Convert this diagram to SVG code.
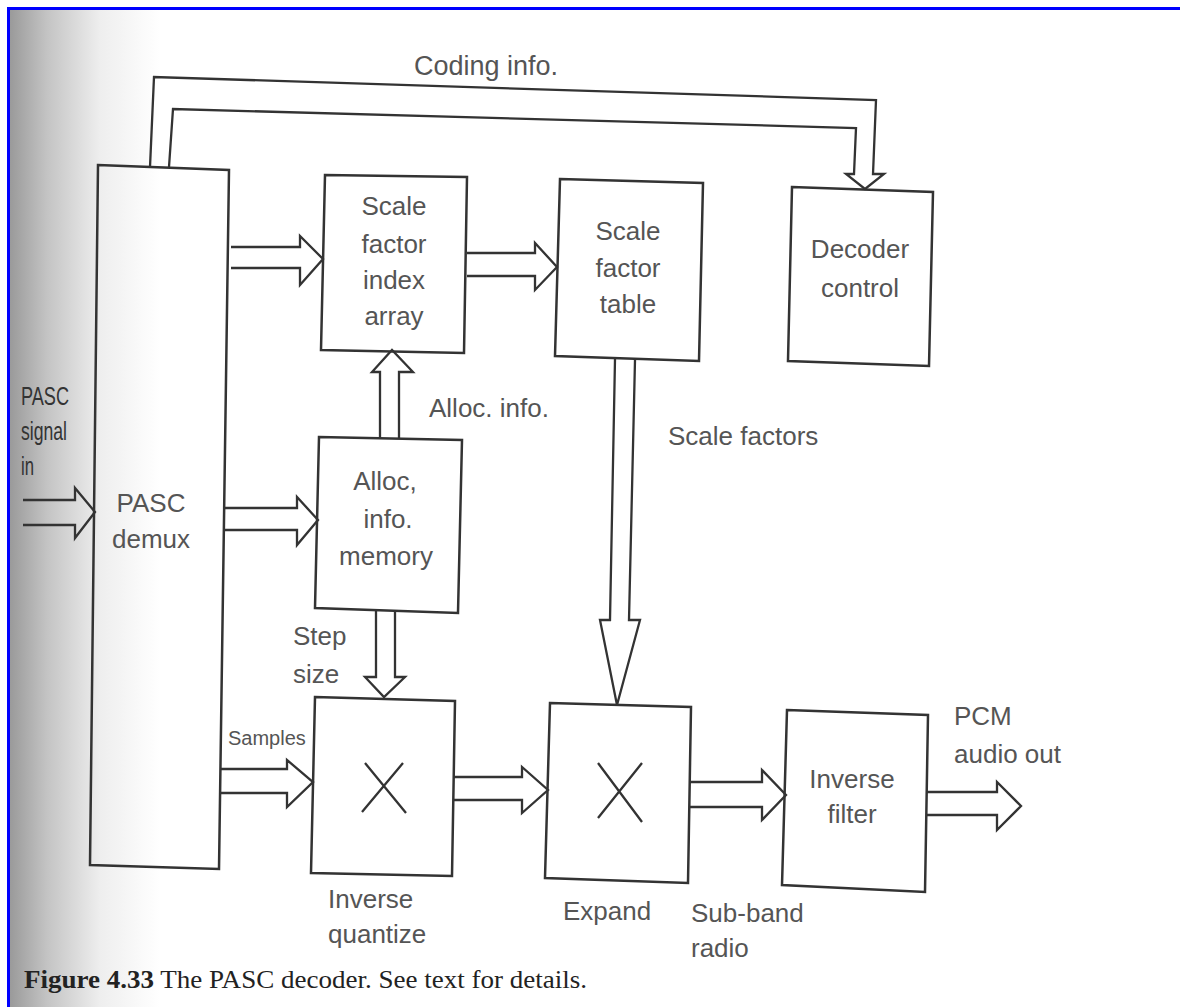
<svg xmlns="http://www.w3.org/2000/svg" width="1180" height="1007" viewBox="0 0 1180 1007">
<defs>
<linearGradient id="shade" x1="0" y1="0" x2="1" y2="0">
<stop offset="0" stop-color="#9a9a9a"/>
<stop offset="0.25" stop-color="#c4c4c4"/>
<stop offset="0.6" stop-color="#eeeeee"/>
<stop offset="1" stop-color="#ffffff"/>
</linearGradient>
</defs>
<style>
.box{fill:none;stroke:#333;stroke-width:2.5;stroke-linejoin:miter}
.arr{fill:none;stroke:#333;stroke-width:2.3;stroke-linejoin:miter}
.t{font-family:"Liberation Sans",Arial,sans-serif;font-size:26px;fill:#555}
.c{text-anchor:middle}
.sig{fill:#333}
.cap{font-family:"Liberation Serif","Times New Roman",serif;font-size:25px;fill:#222}
</style>
<rect x="0" y="0" width="1180" height="1007" fill="#fff"/>
<rect x="10" y="10" width="150" height="997" fill="url(#shade)"/>
<path d="M8.5,1007 V8.5 H1180" fill="none" stroke="#0000ff" stroke-width="3"/>

<g id="connectors">
<path class="arr" d="M150,167 L154,77 L876,100 L873,174 L884,174 L865,189 L846,174 L854,174 L856,128 L173,109 L169,167"/>
<polyline class="arr" points="23,500 75,500 75,488 95,512 75,538 75,525 23,525"/>
<polyline class="arr" points="231,247 300,247 300,236 323,259 300,285 300,268 231,268"/>
<polyline class="arr" points="467,253 535,253 535,243 557,267 535,290 535,276 467,276"/>
<polyline class="arr" points="225,508 297,508 297,497 318,520 297,545 297,530 225,530"/>
<polyline class="arr" points="380,438 380,372 372,372 392,350 413,372 399,372 399,439"/>
<polyline class="arr" points="376,611 376,677 365,677 384,697 405,677 395,677 395,612"/>
<polyline class="arr" points="220,769 287,769 287,760 313,782 287,807 287,793 220,793"/>
<polyline class="arr" points="453,777 522,777 522,767 548,790 522,813 522,800 453,800"/>
<polyline class="arr" points="615,359 610,620 600,620 617,705 640,620 629,620 635,360"/>
<polyline class="arr" points="689,782 762,782 762,770 786,795 762,820 762,807 689,807"/>
<polyline class="arr" points="926,792 997,792 997,782 1021,806 997,830 997,815 926,815"/>
<text class="t" x="414" y="75" style="font-size:27px">Coding info.</text>
<text class="t" x="429" y="417">Alloc. info.</text>
<text class="t" x="668" y="445">Scale factors</text>
<text class="t" x="293" y="645">Step</text>
<text class="t" x="293" y="683">size</text>
<text class="t" x="228" y="745" style="font-size:20px">Samples</text>
<text class="t" x="691" y="922">Sub-band</text>
<text class="t" x="691" y="957">radio</text>
<text class="t" x="954" y="725">PCM</text>
<text class="t" x="954" y="763">audio out</text>
<text class="t sig" x="21" y="405" textLength="48" lengthAdjust="spacingAndGlyphs">PASC</text>
<text class="t sig" x="21" y="440" textLength="46" lengthAdjust="spacingAndGlyphs">signal</text>
<text class="t sig" x="21" y="475" textLength="13" lengthAdjust="spacingAndGlyphs">in</text>
</g>

<g id="pasc-demux">
<polygon class="box" points="98,165 229,170 219,869 90,865"/>
<text class="t c" x="151" y="512">PASC</text>
<text class="t c" x="151" y="548">demux</text>
</g>

<g id="scale-factor-index-array">
<polygon class="box" points="325,175 467,177 464,353 321,350"/>
<text class="t c" x="394" y="215">Scale</text>
<text class="t c" x="394" y="253">factor</text>
<text class="t c" x="394" y="289">index</text>
<text class="t c" x="394" y="325">array</text>
</g>

<g id="scale-factor-table">
<polygon class="box" points="560,179 703,183 699,361 555,356"/>
<text class="t c" x="628" y="240">Scale</text>
<text class="t c" x="628" y="277">factor</text>
<text class="t c" x="628" y="313">table</text>
</g>

<g id="decoder-control">
<polygon class="box" points="792,187 933,192 929,366 788,361"/>
<text class="t c" x="860" y="258">Decoder</text>
<text class="t c" x="860" y="297">control</text>
</g>

<g id="alloc-info-memory">
<polygon class="box" points="319,437 462,440 458,613 315,608"/>
<text class="t c" x="385" y="490">Alloc,</text>
<text class="t c" x="388" y="528">info.</text>
<text class="t c" x="386" y="565">memory</text>
</g>

<g id="inverse-quantize">
<polygon class="box" points="315,697 455,701 452,876 311,873"/>
<path class="arr" d="M365,763 L406,813 M403,763 L362,812"/>
<text class="t" x="328" y="908">Inverse</text>
<text class="t" x="328" y="943">quantize</text>
</g>

<g id="expand">
<polygon class="box" points="550,703 691,707 688,883 545,878"/>
<path class="arr" d="M598,763 L642,822 M642,763 L598,818"/>
<text class="t" x="563" y="920">Expand</text>
</g>

<g id="inverse-filter">
<polygon class="box" points="787,710 928,715 925,892 782,885"/>
<text class="t c" x="852" y="788">Inverse</text>
<text class="t c" x="852" y="823">filter</text>
</g>

<g id="caption">
<text class="cap" x="24" y="988" textLength="563" lengthAdjust="spacingAndGlyphs"><tspan font-weight="bold">Figure 4.33</tspan> The PASC decoder. See text for details.</text>
</g>
</svg>
